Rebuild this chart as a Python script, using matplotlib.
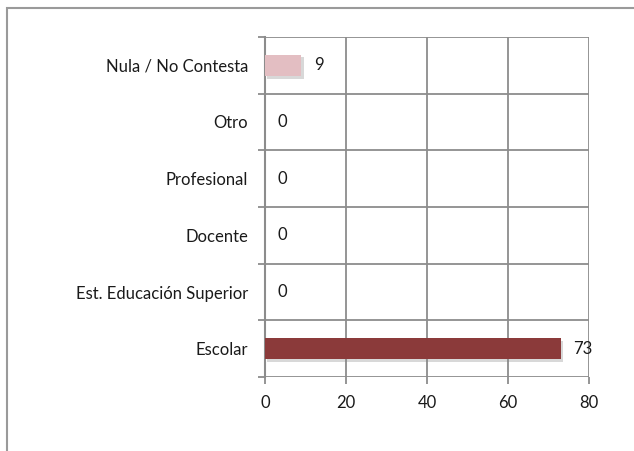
import matplotlib
matplotlib.use('Agg')
import matplotlib.pyplot as plt
import matplotlib.patheffects as pe
from matplotlib.patches import Rectangle
import numpy as np

# === Data ===
categories = ['Escolar', 'Est. Educación Superior', 'Docente', 'Profesional',
              'Otro', 'Nula / No Contesta']
values = [73, 0, 0, 0, 0, 9]
bar_colors = ['#8B3A3A', '#8B3A3A', '#8B3A3A', '#8B3A3A', '#8B3A3A', '#E3BEC2']
x_ticks = [0, 20, 40, 60, 80]

GRID = '#8C8C8C'
TEXT = '#1A1A1A'

plt.rcParams.update({
    'font.family': ['Lato', 'DejaVu Sans'],
    'font.size': 12,
})

fig = plt.figure(figsize=(6.34, 4.51), dpi=100, facecolor='white')

# outer chart border
fig.patches.append(Rectangle((7 / 634, -0.1), 1.2, 1 - 8 / 451 + 0.1,
                             transform=fig.transFigure, fill=False,
                             edgecolor='#9A9A9A', linewidth=1.5))

ax = fig.add_axes([265 / 634, 1 - 377 / 451, (589 - 265) / 634, (377 - 37) / 451])

y = np.arange(len(categories))
bars = ax.barh(y, values, height=0.38, color=bar_colors, zorder=3)
for b in bars:
    b.set_path_effects([pe.SimplePatchShadow(offset=(1.5, -2), shadow_rgbFace='#808080', alpha=0.3),
                        pe.Normal()])

for yi, v in zip(y, values):
    ax.annotate(f'{v}', xy=(v, yi), xytext=(9, 0), textcoords='offset points',
                ha='left', va='center', fontsize=12, color=TEXT,
                zorder=5, annotation_clip=False)

ax.set_xlim(0, 80)
ax.set_ylim(-0.5, len(categories) - 0.5)
ax.set_xticks(x_ticks)
ax.set_yticks(y)
ax.set_yticklabels(categories, color=TEXT)
ax.set_yticks(np.arange(-0.5, len(categories)), minor=True)

ax.grid(axis='x', which='major', color=GRID, linewidth=1.3, zorder=0)
ax.grid(axis='y', which='minor', color=GRID, linewidth=1.3, zorder=0)
ax.set_axisbelow(True)

for s in ['top', 'right', 'bottom']:
    ax.spines[s].set_visible(False)
ax.spines['left'].set_color(GRID)
ax.spines['left'].set_linewidth(1.5)

ax.tick_params(axis='y', which='major', length=0, pad=12)
ax.tick_params(axis='y', which='minor', length=5, width=1.3, color=GRID)
ax.tick_params(axis='x', length=5, width=1.3, color=GRID, pad=8, labelcolor=TEXT)

plt.savefig('out.png', dpi=100, facecolor='white')
